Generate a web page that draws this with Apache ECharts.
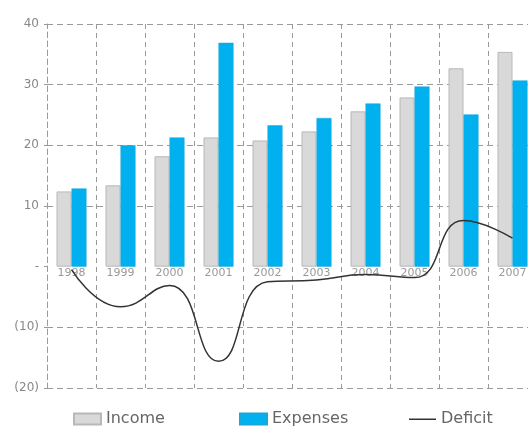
<!DOCTYPE html>
<html>
<head>
<meta charset="utf-8">
<script src="https://cdn.jsdelivr.net/npm/echarts@6/dist/echarts.min.js"></script>
<style>
  html, body { margin: 0; padding: 0; background: #fff; }
  #chart { width: 528px; height: 435px; }
</style>
</head>
<body>
<div id="chart"></div>
<script>
// values
const years = ['1998', '1999', '2000', '2001', '2002', '2003', '2004', '2005', '2006', '2007'];
const income = [12.4, 13.4, 18.2, 21.3, 20.8, 22.3, 25.6, 27.9, 32.7, 35.4];
const expenses = [12.9, 20.0, 21.3, 36.9, 23.3, 24.5, 26.9, 29.7, 25.1, 30.7];
const deficit = [-0.5, -6.6, -3.1, -15.6, -2.5, -2.2, -1.3, -1.8, 7.6, 4.7];

const font = 'DejaVu Sans';
const gridGray = '#9a9a9a';

// one legend per item so each sits where the reference puts it
function legendAt(left, name, icon) {
    return {
        left: left,
        bottom: 3,
        itemWidth: 27,
        itemHeight: 11,
        textStyle: { color: '#666', fontSize: 16 },
        data: [{ name: name, icon: icon }]
    };
}

let myChart = echarts.init(document.getElementById('chart'));
let option = {
    animation: false,
    textStyle: { fontFamily: font },
    grid: { left: 47, width: 490, top: 24, bottom: 47, outerBoundsMode: 'none', containLabel: false },
    legend: [
        legendAt(68, 'Income', 'rect'),
        legendAt(234, 'Expenses', 'rect'),
        legendAt(404, 'Deficit', 'path://M0,0 M0,5 L27,5 L27,6.5 L0,6.5 Z M27,11')
    ],
    xAxis: {
        type: 'category',
        data: years,
        // labels sit on the zero line (onZero does not move them here)
        offset: -121,
        axisLine: { show: false, onZero: false },
        axisTick: { show: false },
        axisLabel: { color: '#999', fontSize: 11, margin: 1 },
        splitLine: {
            show: true,
            interval: 0,
            lineStyle: { color: gridGray, type: [5, 4], width: 1 }
        }
    },
    yAxis: {
        type: 'value',
        min: -20,
        max: 40,
        interval: 10,
        axisLine: { show: true, lineStyle: { color: gridGray, type: [5, 4] } },
        axisTick: { show: true, length: 3, lineStyle: { color: gridGray } },
        axisLabel: {
            color: '#888',
            fontSize: 12,
            margin: 8,
            formatter: function (v) {
                if (v === 0) return '-';
                return v < 0 ? '(' + Math.abs(v) + ')' : String(v);
            }
        },
        splitLine: {
            lineStyle: {
                color: [gridGray, gridGray, 'rgba(0,0,0,0)', gridGray, gridGray, gridGray, gridGray],
                type: [6, 4],
                width: 1
            }
        }
    },
    series: [
        {
            name: 'Income',
            type: 'bar',
            data: income,
            barWidth: 15,
            barGap: '0%',
            itemStyle: { color: '#d9d9d9', borderColor: '#b8b8b8', borderWidth: 1 }
        },
        {
            name: 'Expenses',
            type: 'bar',
            data: expenses,
            barWidth: 15,
            itemStyle: { color: '#00b0ef', borderColor: '#19a6d8', borderWidth: 0.5 }
        },
        {
            name: 'Deficit',
            type: 'line',
            data: deficit,
            smooth: 0.5,
            symbol: 'none',
            lineStyle: { color: '#333', width: 1.5 },
            itemStyle: { color: '#333' },
            z: 5
        }
    ]
};
myChart.setOption(option);
</script>
</body>
</html>
